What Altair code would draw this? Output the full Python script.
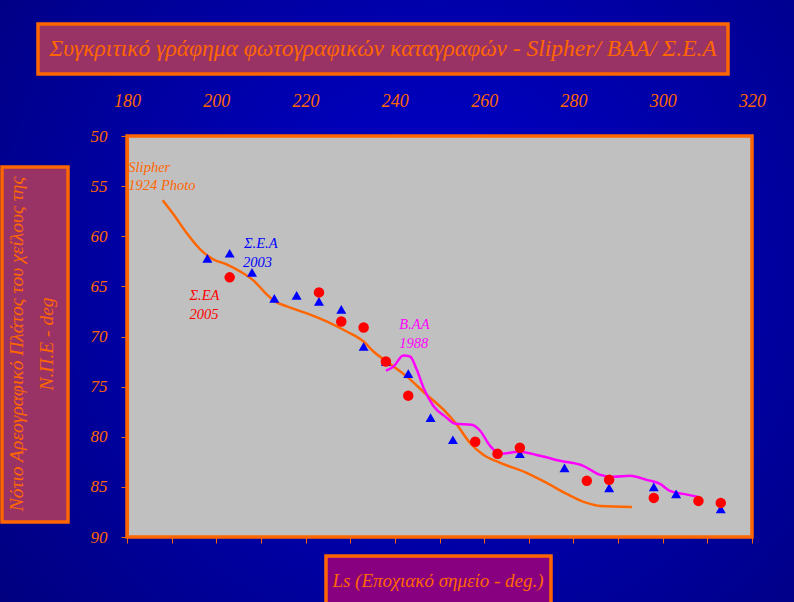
import altair as alt
import pandas as pd

# ---- data ----
slipher_ls = [188.0, 190.4, 193.4, 196.4, 199.3, 202.3, 205.3, 208.3, 211.3, 212.8, 215.8, 220.3,
              224.7, 229.2, 233.0, 235.2, 238.2, 242.7, 247.1, 250.9, 253.9, 256.8, 259.8, 263.6,
              269.5, 274.0, 278.5, 283.0, 286.0, 293.1]
slipher_lat = [56.4, 57.8, 59.7, 61.3, 62.3, 62.8, 63.5, 64.4, 65.8, 66.4, 67.0, 67.7,
               68.5, 69.5, 70.5, 71.5, 72.5, 74.0, 75.8, 77.3, 78.8, 80.6, 81.8, 82.6,
               83.6, 84.6, 85.7, 86.6, 86.9, 87.0]

baa_ls = [238.0, 239.7, 241.9, 243.4, 244.9, 246.4, 248.6, 251.6, 253.5, 257.2, 259.1, 261.3,
          263.6, 268.0, 272.5, 277.0, 282.2, 286.0, 288.9, 292.7, 296.4, 299.4, 301.6, 304.6, 307.9]
baa_lat = [73.4, 73.0, 71.9, 72.0, 73.3, 75.1, 76.9, 78.1, 78.7, 78.8, 79.4, 80.9,
           81.7, 81.5, 81.9, 82.4, 82.9, 83.8, 84.0, 83.9, 84.3, 84.7, 85.4, 85.7, 86.0]

sea2003_ls = [198, 203, 208, 213, 218, 223, 228, 233, 238, 243, 248, 253, 268, 278, 288, 298, 303, 313]
sea2003_lat = [62.2, 61.7, 63.6, 66.2, 65.9, 66.5, 67.3, 71.0, 72.5, 73.7, 78.1, 80.3, 81.7, 83.1,
               85.1, 85.0, 85.7, 87.2]

sea2005_ls = [203, 223, 228, 233, 238, 243, 258, 263, 268, 283, 288, 298, 308, 313]
sea2005_lat = [64.1, 65.6, 68.5, 69.1, 72.5, 75.9, 80.5, 81.7, 81.1, 84.4, 84.3, 86.1, 86.4, 86.6]

ann_text = ["Slipher", "1924 Photo", "Σ.Ε.Α", "2003", "Σ.ΕΑ", "2005", "B.AA", "1988"]
ann_ls = [180.3, 180.3, 206.2, 206.0, 194.0, 194.0, 241.0, 241.0]
ann_lat = [53.2, 55.0, 60.8, 62.7, 66.0, 67.9, 68.9, 70.7]
ann_color = ["#FF6600", "#FF6600", "#0000FF", "#0000FF", "#FF0000", "#FF0000", "#FF00FF", "#FF00FF"]

title_text = "Συγκριτικό γράφημα φωτογραφικών καταγραφών - Slipher/ BAA/ Σ.Ε.Α"
ytitle_1 = "Νότιο Αρεογραφικό Πλάτος του χείλους της"
ytitle_2 = "Ν.Π.Ε - deg"
xtitle = "Ls (Εποχιακό σημείο - deg.)"

top_ticks = [180, 200, 220, 240, 260, 280, 300, 320]
bottom_ticks = list(range(180, 321, 10))
y_ticks = [50, 55, 60, 65, 70, 75, 80, 85, 90]

W, H = 625, 401
ORANGE = "#FF6600"
FONT = "Liberation Serif"

slipher = pd.DataFrame({"Ls": slipher_ls, "lat": slipher_lat})
baa = pd.DataFrame({"Ls": baa_ls, "lat": baa_lat})
s03 = pd.DataFrame({"Ls": sea2003_ls, "lat": sea2003_lat})
s05 = pd.DataFrame({"Ls": sea2005_ls, "lat": sea2005_lat})
ann = pd.DataFrame({"t": ann_text, "Ls": ann_ls, "lat": ann_lat, "c": ann_color})
one = pd.DataFrame({"a": [0]})

xs = alt.Scale(domain=[180, 320], nice=False, zero=False)
ys = alt.Scale(domain=[50, 90], nice=False, zero=False, reverse=True)

# decorative background gradient over whole canvas
bg = alt.Chart(one).mark_rect(
    clip=False,
    fill=alt.RadialGradient(
        gradient="radial", x1=0.55, y1=0.45, r1=0.0, x2=0.55, y2=0.45, r2=0.75,
        stops=[alt.GradientStop(offset=0, color="#0000D0"),
               alt.GradientStop(offset=1, color="#00007A")])
).encode(x=alt.value(-127), x2=alt.value(W + 42), y=alt.value(-136), y2=alt.value(H + 65))

plotbg = alt.Chart(one).mark_rect(fill="#C0C0C0", stroke=ORANGE, strokeWidth=3.5, clip=False).encode(
    x=alt.value(0), x2=alt.value(W), y=alt.value(0), y2=alt.value(H))

def box(x, x2, y, y2, fill):
    return alt.Chart(one).mark_rect(fill=fill, stroke=ORANGE, strokeWidth=3.5, clip=False).encode(
        x=alt.value(x), x2=alt.value(x2), y=alt.value(y), y2=alt.value(y2))

def label(text, x, y, size, angle=0):
    kw = dict(text=text, font=FONT, fontStyle="italic", fontSize=size, color=ORANGE,
              align="center", baseline="middle", clip=False)
    if angle:
        kw["angle"] = angle
    return alt.Chart(one).mark_text(**kw).encode(x=alt.value(x), y=alt.value(y))

title_box = box(-89, 601, -112, -62, "#993366")
title_lbl = label(title_text, 256, -87, 23.5)
ybox = box(-125, -59, 31, 386, "#993366")
ylbl1 = label(ytitle_1, -110, 208, 19.5, 270)
ylbl2 = label(ytitle_2, -80, 208, 19.5, 270)
xbox = box(199, 424, 420, 470, "#880080")
xlbl = label(xtitle, 311, 445, 19)

axis_common = dict(labelFont=FONT, labelFontStyle="italic", labelColor=ORANGE,
                   domainColor=ORANGE, tickColor=ORANGE, title=None, grid=False, zindex=1,
                   labelFlush=False)

# bottom axis (ticks only) + left axis carried by the Slipher line layer
slipher_line = alt.Chart(slipher).mark_line(color=ORANGE, strokeWidth=2.5, interpolate="monotone").encode(
    x=alt.X("Ls:Q", scale=xs, axis=alt.Axis(orient="bottom", values=bottom_ticks, labels=False,
                                             tickSize=6, domain=False, **axis_common)),
    y=alt.Y("lat:Q", scale=ys, axis=alt.Axis(orient="left", values=y_ticks, tickSize=6, labelFontSize=17,
                                              labelPadding=14, domainWidth=3, **axis_common)),
)

baa_line = alt.Chart(baa).mark_line(color="#FF00FF", strokeWidth=2.5, interpolate="monotone").encode(
    x=alt.X("Ls:Q", scale=xs, axis=alt.Axis(orient="top", values=top_ticks, ticks=False, domain=False,
                                             labelFontSize=18, labelPadding=26, **axis_common)),
    y=alt.Y("lat:Q", scale=ys, axis=None),
)

tri = alt.Chart(s03).mark_point(shape="triangle-up", filled=True, color="#0000FF", size=100, opacity=1).encode(
    x=alt.X("Ls:Q", scale=xs, axis=None), y=alt.Y("lat:Q", scale=ys, axis=None))

circ = alt.Chart(s05).mark_circle(color="#FF0000", size=110, opacity=1).encode(
    x=alt.X("Ls:Q", scale=xs, axis=None), y=alt.Y("lat:Q", scale=ys, axis=None))

ann_layer = alt.Chart(ann).mark_text(font=FONT, fontStyle="italic", fontSize=14.5, align="left",
                                     baseline="middle").encode(
    x=alt.X("Ls:Q", scale=xs, axis=None), y=alt.Y("lat:Q", scale=ys, axis=None),
    text="t:N", color=alt.Color("c:N", scale=None))

chart = alt.layer(
    bg, plotbg, title_box, title_lbl, ybox, ylbl1, ylbl2, xbox, xlbl,
    slipher_line, baa_line, tri, circ, ann_layer
).resolve_axis(x="independent", y="independent").properties(
    width=W, height=H,
    autosize=alt.AutoSizeParams(type="none"),
    padding={"left": 127, "top": 136, "right": 42, "bottom": 65},
    background="#000090",
).configure_view(stroke=None, fill=None)

chart.save("out.html", embed_options={"renderer": "svg", "actions": False})
